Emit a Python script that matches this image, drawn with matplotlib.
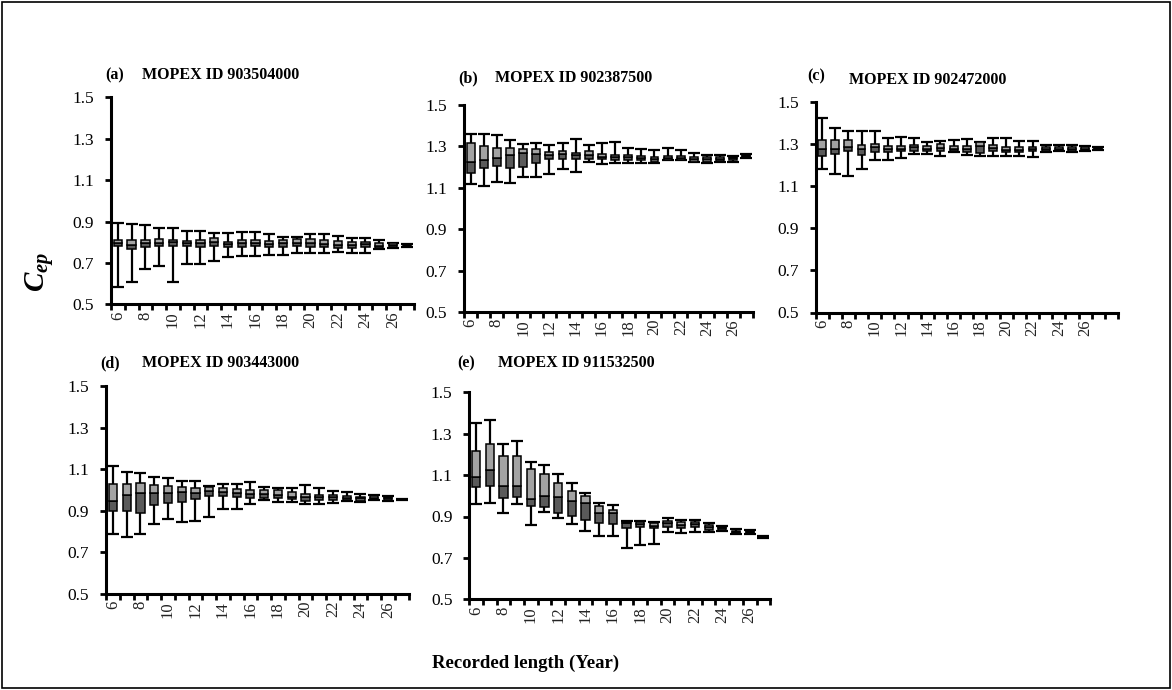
import matplotlib
matplotlib.use("Agg")
import matplotlib.pyplot as plt
from matplotlib.patches import Rectangle
import numpy as np

plt.rcParams['font.family'] = ['Liberation Serif', 'DejaVu Serif']
plt.rcParams['mathtext.fontset'] = 'custom'
plt.rcParams['mathtext.rm'] = 'Liberation Serif'
plt.rcParams['mathtext.it'] = 'Liberation Serif:italic:bold'
plt.rcParams['mathtext.bf'] = 'Liberation Serif:bold'

years = list(range(6, 28))
tick_labels = [str(v) for v in range(6, 27, 2)]

# Panel (a) MOPEX ID 903504000
a_high = [0.895,0.888,0.885,0.870,0.870,0.856,0.856,0.846,0.846,0.850,0.850,0.838,0.827,0.827,0.838,0.838,0.832,0.820,0.820,0.810,0.798,0.790]
a_q3   = [0.812,0.810,0.812,0.814,0.812,0.808,0.812,0.820,0.803,0.810,0.810,0.806,0.810,0.815,0.815,0.812,0.808,0.803,0.803,0.798,0.795,0.788]
a_med  = [0.796,0.788,0.795,0.798,0.800,0.795,0.795,0.800,0.790,0.795,0.795,0.790,0.795,0.797,0.795,0.792,0.787,0.787,0.790,0.784,0.786,0.784]
a_q1   = [0.780,0.765,0.775,0.780,0.782,0.780,0.775,0.780,0.775,0.775,0.780,0.775,0.775,0.780,0.775,0.775,0.770,0.770,0.775,0.770,0.776,0.780]
a_low  = [0.585,0.607,0.670,0.687,0.607,0.695,0.695,0.710,0.730,0.735,0.735,0.740,0.740,0.750,0.750,0.750,0.755,0.750,0.750,0.765,0.770,0.777]

# Panel (b) MOPEX ID 902387500
b_high = [1.360,1.360,1.354,1.331,1.312,1.315,1.305,1.318,1.334,1.307,1.318,1.323,1.294,1.286,1.283,1.294,1.283,1.270,1.259,1.259,1.254,1.264]
b_q3   = [1.315,1.300,1.290,1.290,1.286,1.286,1.275,1.280,1.270,1.280,1.264,1.259,1.259,1.254,1.248,1.254,1.254,1.248,1.248,1.250,1.250,1.259]
b_med  = [1.227,1.235,1.243,1.260,1.267,1.262,1.259,1.264,1.259,1.259,1.250,1.248,1.248,1.246,1.238,1.243,1.243,1.238,1.238,1.240,1.243,1.254]
b_q1   = [1.170,1.195,1.205,1.195,1.200,1.222,1.238,1.238,1.238,1.238,1.238,1.235,1.235,1.235,1.227,1.232,1.232,1.227,1.227,1.230,1.232,1.248]
b_low  = [1.117,1.110,1.130,1.122,1.151,1.151,1.166,1.190,1.178,1.227,1.215,1.222,1.219,1.222,1.222,1.235,1.232,1.227,1.222,1.227,1.227,1.243]

# Panel (c) MOPEX ID 902472000
c_high = [1.424,1.376,1.364,1.361,1.361,1.329,1.334,1.329,1.308,1.316,1.318,1.324,1.308,1.329,1.329,1.313,1.313,1.297,1.297,1.297,1.292,1.284]
c_q3   = [1.321,1.318,1.318,1.297,1.302,1.289,1.292,1.297,1.289,1.302,1.292,1.292,1.308,1.297,1.286,1.286,1.286,1.286,1.286,1.286,1.286,1.282]
c_med  = [1.277,1.277,1.286,1.277,1.284,1.277,1.277,1.286,1.277,1.281,1.277,1.277,1.289,1.281,1.273,1.273,1.277,1.277,1.277,1.277,1.277,1.277]
c_q1   = [1.242,1.254,1.265,1.250,1.261,1.261,1.265,1.265,1.265,1.265,1.265,1.261,1.258,1.265,1.261,1.261,1.265,1.265,1.270,1.265,1.270,1.272]
c_low  = [1.183,1.158,1.147,1.181,1.226,1.226,1.234,1.254,1.253,1.242,1.261,1.250,1.242,1.245,1.242,1.245,1.239,1.261,1.265,1.261,1.265,1.270]

# Panel (d) MOPEX ID 903443000
d_high = [1.115,1.088,1.083,1.061,1.056,1.043,1.043,1.021,1.027,1.029,1.038,1.016,1.011,1.011,1.024,1.011,0.995,0.989,0.981,0.976,0.971,0.958]
d_q3   = [1.029,1.029,1.032,1.024,1.021,1.016,1.011,1.016,1.011,1.005,1.000,1.000,1.000,0.992,0.981,0.976,0.976,0.971,0.968,0.971,0.968,0.957]
d_med  = [0.949,0.976,0.984,0.984,0.987,0.992,0.987,0.997,0.992,0.987,0.981,0.981,0.976,0.968,0.968,0.965,0.965,0.963,0.960,0.963,0.960,0.955]
d_q1   = [0.900,0.900,0.891,0.928,0.936,0.944,0.955,0.971,0.971,0.968,0.960,0.963,0.960,0.955,0.949,0.952,0.952,0.952,0.949,0.955,0.952,0.953]
d_low  = [0.787,0.776,0.787,0.837,0.859,0.845,0.851,0.872,0.907,0.907,0.931,0.952,0.944,0.944,0.933,0.933,0.936,0.947,0.944,0.952,0.949,0.951]

# Panel (e) MOPEX ID 911532500
e_high = [1.353,1.366,1.249,1.265,1.165,1.149,1.104,1.060,1.015,0.967,0.956,0.880,0.878,0.875,0.891,0.883,0.883,0.870,0.856,0.838,0.835,0.806]
e_q3   = [1.218,1.250,1.192,1.192,1.128,1.104,1.064,1.025,0.999,0.952,0.932,0.872,0.872,0.867,0.880,0.872,0.875,0.859,0.851,0.832,0.832,0.803]
e_med  = [1.093,1.125,1.048,1.048,0.983,0.999,0.996,0.977,0.964,0.915,0.915,0.867,0.864,0.856,0.867,0.859,0.864,0.848,0.843,0.827,0.824,0.800]
e_q1   = [1.041,1.048,0.991,0.996,0.952,0.944,0.919,0.903,0.883,0.867,0.862,0.843,0.848,0.843,0.851,0.843,0.848,0.835,0.835,0.819,0.819,0.797]
e_low  = [0.959,0.967,0.915,0.961,0.859,0.920,0.893,0.864,0.832,0.805,0.808,0.746,0.762,0.767,0.827,0.819,0.827,0.824,0.832,0.814,0.816,0.795]

W, H = 1172, 690
fig = plt.figure(figsize=(W / 100, H / 100), dpi=100)

def px_axes(left, right, top, bottom):
    return fig.add_axes([left / W, 1 - bottom / H, (right - left) / W, (bottom - top) / H])

LIGHT = '#a3a3a3'
DARK = '#5a5a5a'

def draw_panel(ax, low, q1, med, q3, high, xmax):
    x = np.array(years, dtype=float)
    low, q1, med, q3, high = map(np.array, (low, q1, med, q3, high))
    ax.errorbar(x, med, yerr=[med - low, high - med], fmt='none', ecolor='black',
                elinewidth=1.6, capsize=4, capthick=1.6, zorder=2)
    ax.bar(x, med - q1, bottom=q1, width=0.6, color=DARK, edgecolor='black',
           linewidth=1.1, zorder=3)
    ax.bar(x, q3 - med, bottom=med, width=0.6, color=LIGHT, edgecolor='black',
           linewidth=1.1, zorder=3)
    ax.set_xlim(5.5, xmax)
    ax.set_ylim(0.5, 1.5)
    ax.set_yticks([0.5, 0.7, 0.9, 1.1, 1.3, 1.5])
    ax.set_yticklabels(['0.5', '0.7', '0.9', '1.1', '1.3', '1.5'], fontsize=12.5)
    ax.set_xticks(list(range(6, 27, 2)))
    ax.set_xticklabels(tick_labels, rotation=90, fontsize=12, color='#222222')
    ax.set_xticks(np.arange(5.5, xmax + 0.01, 1.0), minor=True)
    ax.tick_params(axis='x', which='major', length=0, pad=5)
    ax.tick_params(axis='x', which='minor', length=4, width=2, direction='out')
    ax.tick_params(axis='y', which='major', length=4, width=2, direction='out', pad=8)
    for s in ('top', 'right'):
        ax.spines[s].set_visible(False)
    for s in ('left', 'bottom'):
        ax.spines[s].set_linewidth(2.2)

ax_a = px_axes(111, 413.5, 97.3, 304.3)
draw_panel(ax_a, a_low, a_q1, a_med, a_q3, a_high, 27.5)
ax_b = px_axes(464, 753, 105, 312)
draw_panel(ax_b, b_low, b_q1, b_med, b_q3, b_high, 27.5)
ax_c = px_axes(815.5, 1118, 102, 312.5)
draw_panel(ax_c, c_low, c_q1, c_med, c_q3, c_high, 28.5)
ax_d = px_axes(106, 408.5, 386, 594)
draw_panel(ax_d, d_low, d_q1, d_med, d_q3, d_high, 27.5)
ax_e = px_axes(469.2, 770.2, 392.3, 599.3)
draw_panel(ax_e, e_low, e_q1, e_med, e_q3, e_high, 27.5)

titles = [
    ('(a)', 105, 75, 'MOPEX ID 903504000', 142, 75),
    ('(b)', 458, 78, 'MOPEX ID 902387500', 495, 78),
    ('(c)', 807, 76, 'MOPEX ID 902472000', 849, 80),
    ('(d)', 100, 363, 'MOPEX ID 903443000', 142, 363),
    ('(e)', 457, 363, 'MOPEX ID 911532500', 498, 363),
]
for lab, lx, ly, t, tx, ty in titles:
    fig.text(lx / W, 1 - ly / H, lab, fontsize=11.5, fontweight='bold', ha='left', va='center')
    fig.text(tx / W, 1 - ty / H, t, fontsize=11.5, fontweight='bold', ha='left', va='center')

fig.text(40 / W, 1 - 272 / H, r'$C_{ep}$', fontsize=21, rotation=90, ha='center', va='center')
fig.text(526 / W, 1 - 663 / H, 'Recorded length (Year)', fontsize=13.5, fontweight='bold',
         ha='center', va='center')

fig.patches.append(Rectangle((2 / W, 2 / H), (W - 4) / W, (H - 4) / H, transform=fig.transFigure,
                             fill=False, edgecolor='black', linewidth=1.2))

fig.savefig('out.png', dpi=100)
